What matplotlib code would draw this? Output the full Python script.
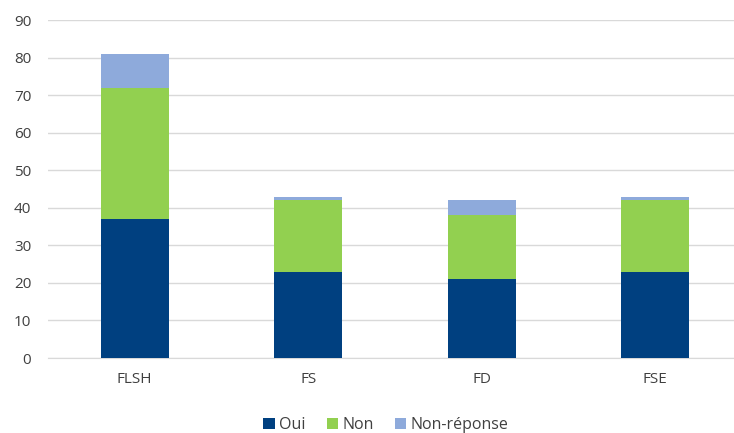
import numpy as np
import matplotlib.pyplot as plt

categories = ['FLSH', 'FS', 'FD', 'FSE']
oui = [37, 23, 21, 23]
non = [35, 19, 17, 19]
non_reponse = [9, 1, 4, 1]

plt.rcParams['font.family'] = ['Open Sans', 'DejaVu Sans']

fig = plt.figure(figsize=(7.34, 4.33), dpi=100)
ax = fig.add_axes([48 / 734, (433 - 358) / 433, (742 - 48) / 734, (358 - 20) / 433])

x = np.arange(len(categories))
w = 0.39
b1 = np.array(oui)
b2 = b1 + np.array(non)
ax.bar(x, oui, w, color='#004080', label='Oui', zorder=3)
ax.bar(x, non, w, bottom=b1, color='#92d050', label='Non', zorder=3)
ax.bar(x, non_reponse, w, bottom=b2, color='#8eaadb', label='Non-réponse', zorder=3)

ax.set_xlim(-0.5, len(categories) - 0.5)
ax.set_ylim(0, 90)
ax.set_yticks(range(0, 91, 10))
ax.set_xticks(x)
ax.set_xticklabels(categories)
ax.yaxis.grid(True, color='#d9d9d9', linewidth=1, zorder=0)
for s in ['top', 'right', 'left']:
    ax.spines[s].set_visible(False)
ax.spines['bottom'].set_color('#d9d9d9')
ax.tick_params(axis='both', length=0, colors='#404040', labelsize=11)
ax.tick_params(axis='y', pad=12)
ax.tick_params(axis='x', pad=10)

ax.legend(loc='center', bbox_to_anchor=(386 / 734, 1 - 425 / 433), bbox_transform=fig.transFigure,
          ncol=3, frameon=False, fontsize=11.5, handlelength=0.7, handleheight=0.7,
          handletextpad=0.3, columnspacing=1.3, labelcolor='#404040')

fig.savefig('out.png', dpi=100, facecolor='white')
